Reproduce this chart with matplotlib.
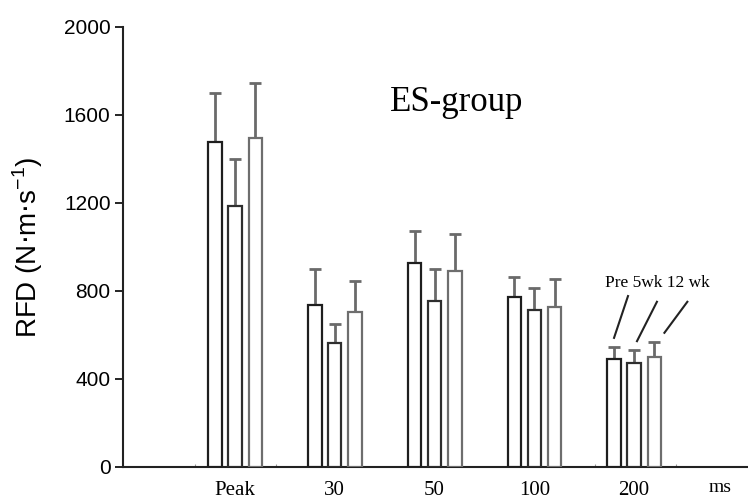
import numpy as np
import matplotlib
matplotlib.use("Agg")
import matplotlib.pyplot as plt

# data
groups = ["Peak", "30", "50", "100", "200"]
series = ["Pre", "5wk", "12 wk"]
pre = [1479, 736, 926, 771, 491]
wk5 = [1186, 562, 756, 714, 471]
wk12 = [1497, 703, 891, 729, 501]
pre_err = [220, 163, 147, 93, 56]
wk5_err = [213, 88, 143, 98, 61]
wk12_err = [247, 144, 170, 126, 69]

values = [pre, wk5, wk12]
errors = [pre_err, wk5_err, wk12_err]
edge_cols = ["#1e1e1e", "#2e2e2e", "#6e6e6e"]
offsets = [-0.2, 0.0, 0.205]
width = 0.135

fig = plt.figure(figsize=(7.48, 4.99), dpi=100, facecolor="white")
ax = fig.add_axes((123/748, 1 - 467/499, 625/748, 440/499))

x = np.arange(len(groups))
for vals, errs, col, off in zip(values, errors, edge_cols, offsets):
    ax.bar(x + off, vals, width, facecolor="white", edgecolor=col, lw=1.6, zorder=3)
    ax.errorbar(x + off, vals, yerr=[np.zeros(len(errs)), errs], fmt="none",
                ecolor="#6a6a6a", elinewidth=2.0, capsize=4.6, capthick=2.0, zorder=2)

ax.set_xlim(-1.123, 5.143)
ax.set_ylim(0, 2000)
ax.set_yticks([0, 400, 800, 1200, 1600, 2000])
ax.tick_params(axis="y", direction="out", length=6, width=1.2, labelsize=15, pad=3)
ax.set_xticks(x)
ax.set_xticklabels(groups, family="Liberation Serif", fontsize=15)
ax.tick_params(axis="x", length=0, pad=10)
ax.set_xticks([-0.4, 0.41, 3.61, 4.42], minor=True)
ax.tick_params(axis="x", which="minor", direction="in", length=2, width=0.8, color="#999999")

for lbl in ax.get_yticklabels():
    lbl.set_family("Liberation Sans")

ax.spines["top"].set_visible(False)
ax.spines["right"].set_visible(False)
ax.spines["left"].set_linewidth(1.5)
ax.spines["bottom"].set_linewidth(1.5)
ax.spines["left"].set_color("#222222")
ax.spines["bottom"].set_color("#222222")

ax.set_ylabel("RFD (N$\\cdot$m$\\cdot$s$^{\\mathregular{-1}}$)", family="Liberation Sans",
              fontsize=20)
ax.yaxis.set_label_coords(-0.124, 0.5)

ax.text(1.55, 1620, "ES-group", family="Liberation Serif", fontsize=25, ha="left", va="baseline")
ax.text(4.86, -91, "ms", family="Liberation Serif", fontsize=14, ha="center", va="center")

# legend-like labels above the 200 ms group
ax.text(3.71, 820, "Pre 5wk 12 wk", family="Liberation Serif", fontsize=12.5, ha="left", va="baseline")
last = len(groups) - 1
line_dx0 = [0.0, 0.03, 0.10]
line_dx1 = [0.14, 0.23, 0.33]
line_y1 = [777, 751, 751]
for j in range(3):
    xb = last + offsets[j]
    top = values[j][last] + errors[j][last]
    ax.plot([xb + line_dx0[j], xb + line_dx1[j]], [top + 40, line_y1[j]],
            color="#222222", lw=1.5, clip_on=False)

fig.savefig("out.png", dpi=100)
